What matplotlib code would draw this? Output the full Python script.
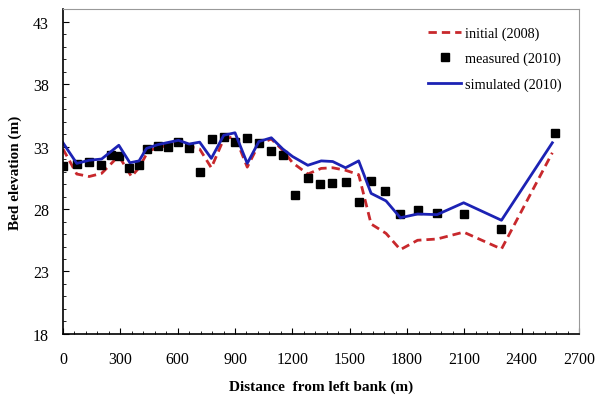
import matplotlib
matplotlib.use("Agg")
import matplotlib.pyplot as plt
from matplotlib.ticker import MultipleLocator

# initial bed (2008)
x_init = [0, 72, 137, 202, 292, 358, 398, 446, 496, 604, 660, 715, 776, 841, 900,
          964, 1025, 1090, 1150, 1201, 1281, 1351, 1411, 1478, 1547, 1612, 1690,
          1765, 1855, 1957, 2096, 2294, 2560]
y_init = [32.8, 30.8, 30.6, 30.85, 32.25, 30.6, 31.3, 32.65, 32.9, 33.3, 33.0, 32.8,
          31.3, 33.6, 33.8, 31.35, 33.2, 33.6, 32.7, 31.7, 30.8, 31.25, 31.3, 31.1,
          30.75, 26.8, 26.05, 24.75, 25.5, 25.6, 26.15, 24.8, 32.5]

# measured (2010)
x_meas = [0, 75, 137, 197, 251, 292, 343, 398, 442, 496, 550, 604, 660, 719, 780,
          841, 900, 962, 1025, 1090, 1150, 1214, 1281, 1346, 1408, 1478, 1547,
          1612, 1687, 1765, 1855, 1957, 2096, 2294, 2573]
y_meas = [31.45, 31.6, 31.8, 31.5, 32.3, 32.25, 31.25, 31.5, 32.8, 33.05, 33.0, 33.4,
          32.9, 30.95, 33.6, 33.8, 33.4, 33.65, 33.3, 32.65, 32.3, 29.1, 30.5, 30.0,
          30.05, 30.2, 28.6, 30.25, 29.45, 27.6, 27.95, 27.7, 27.6, 26.4, 34.05]

# simulated (2010)
x_sim = [0, 72, 137, 202, 292, 350, 398, 437, 496, 604, 660, 715, 776, 841, 900,
         964, 1025, 1090, 1150, 1201, 1281, 1351, 1411, 1478, 1547, 1612, 1690,
         1765, 1855, 1957, 2096, 2294, 2560]
y_sim = [33.3, 31.65, 31.9, 32.0, 33.1, 31.7, 31.85, 32.85, 33.15, 33.5, 33.2, 33.35,
         32.05, 33.9, 34.1, 31.65, 33.4, 33.7, 32.8, 32.2, 31.5, 31.85, 31.8, 31.3,
         31.85, 29.25, 28.65, 27.3, 27.6, 27.55, 28.5, 27.1, 33.3]

plt.rcParams['font.family'] = 'Liberation Serif'

fig = plt.figure(figsize=(5.97, 4.02), dpi=100)
ax = fig.add_axes([0.1055, 0.1667, 0.8645, 0.8083])

ax.plot(x_init, y_init, color='#c8282c', lw=2, ls=(0, (3, 1.8)), label='initial (2008)')
ax.plot(x_meas, y_meas, ls='none', marker='s', ms=5.5, color='black', label='measured (2010)')
ax.plot(x_sim, y_sim, color='#1c22b4', lw=2, label='simulated (2010)')

ax.set_xlim(0, 2700)
ax.set_ylim(18, 44)
ax.xaxis.set_major_locator(MultipleLocator(300))
ax.xaxis.set_minor_locator(MultipleLocator(60))
ax.set_yticks([18, 23, 28, 33, 38, 43])
ax.yaxis.set_minor_locator(MultipleLocator(1))
ax.tick_params(which='both', direction='in', top=False, right=False, labelsize=11.5)
ax.tick_params(which='major', length=4)
ax.tick_params(which='minor', length=2.5)
ax.tick_params(axis='x', pad=12)
ax.tick_params(axis='y', pad=10)

ax.spines['top'].set_color('#999999')
ax.spines['right'].set_color('#999999')
ax.spines['left'].set_linewidth(1.2)
ax.spines['bottom'].set_linewidth(1.2)

ax.set_xlabel('Distance  from left bank (m)', fontsize=11, fontweight='bold', labelpad=9)
ax.set_ylabel('Bed elevation (m)', fontsize=11, fontweight='bold', labelpad=8)

ax.legend(loc='upper right', frameon=False, fontsize=10.3, handlelength=2.3,
          handletextpad=0.3, labelspacing=0.85, borderaxespad=0.8,
          bbox_to_anchor=(1.0, 1.0))

fig.savefig('out.png', dpi=100)
